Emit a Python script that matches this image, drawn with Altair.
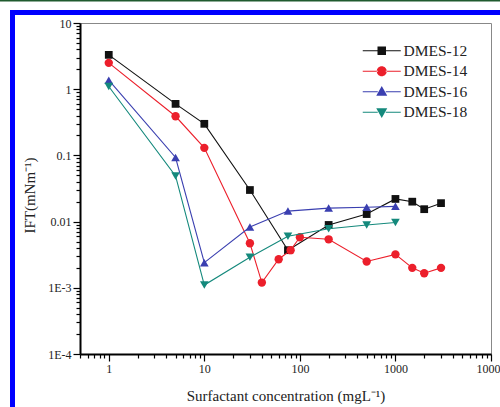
import altair as alt
import pandas as pd

series_names = ["DMES-12", "DMES-14", "DMES-16", "DMES-18"]
series_colors = ["#111111", "#ec1f2b", "#3a3fb0", "#14897c"]
series_shapes = ["square", "circle", "triangle-up", "triangle-down"]
series_sizes = [60, 70, 75, 75]

x12 = [1, 5, 10, 30, 75, 200, 500, 1000, 1500, 2000, 3000]
y12 = [3.3, 0.6, 0.3, 0.03, 0.0037, 0.0089, 0.013, 0.022, 0.020, 0.0154, 0.019]
x14 = [1, 5, 10, 30, 40, 60, 80, 100, 200, 500, 1000, 1500, 2000, 3000]
y14 = [2.5, 0.39, 0.13, 0.0047, 0.0012, 0.0027, 0.0037, 0.0058, 0.0054, 0.0025, 0.0032, 0.0020, 0.00166, 0.0020]
x16 = [1, 5, 10, 30, 75, 200, 500, 1000]
y16 = [1.37, 0.093, 0.0024, 0.0083, 0.0144, 0.016, 0.0165, 0.017]
x18 = [1, 5, 10, 30, 75, 200, 500, 1000]
y18 = [1.1, 0.049, 0.0011, 0.0029, 0.006, 0.0078, 0.0089, 0.0097]

x_major = [1, 10, 100, 1000, 10000]
x_major_labels = ["1", "10", "100", "1000", "10000"]
y_major = [0.0001, 0.001, 0.01, 0.1, 1, 10]
y_major_labels = ["1E-4", "1E-3", "0.01", "0.1", "1", "10"]

x_domain = [0.5, 10000]
y_domain = [0.0001, 10]

x_title = "Surfactant concentration (mgL\u207b\u00b9)"
y_title = "IFT(mNm\u207b\u00b9)"

FONT = "Liberation Serif"

# build the data table
xs_all = [x12, x14, x16, x18]
ys_all = [y12, y14, y16, y18]
rows = []
for name, xs, ys in zip(series_names, xs_all, ys_all):
    for xv, yv in zip(xs, ys):
        rows.append({"series": name, "conc": xv, "ift": yv})
df = pd.DataFrame(rows)


# minor tick value lists (2..9 per decade, plus 0.5..0.9)
def minor_ticks(lo, hi):
    vals = []
    d = 10.0 ** -5
    while d <= hi * 1.0001:
        for m in range(2, 10):
            v = round(m * d, 10)
            if lo * 0.9999 <= v <= hi * 1.0001:
                vals.append(v)
        d *= 10
    return vals


x_minor = minor_ticks(*x_domain)
y_minor = minor_ticks(*y_domain)


def label_expr(vals, labels):
    expr = "''"
    for v, l in reversed(list(zip(vals, labels))):
        expr = f"datum.value == {v} ? '{l}' : ({expr})"
    return expr


x_scale = alt.Scale(type="log", domain=x_domain)
y_scale = alt.Scale(type="log", domain=y_domain)

x_axis = alt.Axis(
    values=x_major,
    labelExpr=label_expr(x_major, x_major_labels),
    tickSize=7,
    title=x_title,
    labelOverlap=False,
    labelFlush=False,
    grid=False,
    labelPadding=2,
    titlePadding=14,
)
y_axis = alt.Axis(
    values=y_major,
    labelExpr=label_expr(y_major, y_major_labels),
    tickSize=7,
    title=y_title,
    labelOverlap=False,
    grid=False,
    labelPadding=2,
    titlePadding=10,
    titleY=172,
)

x_enc = alt.X("conc:Q", scale=x_scale, axis=x_axis)
y_enc = alt.Y("ift:Q", scale=y_scale, axis=y_axis)

base = alt.Chart(df)

series_layers = []
for name, col, shp, sz in zip(series_names, series_colors, series_shapes, series_sizes):
    series_layers.append(
        base.transform_filter(alt.datum.series == name)
        .mark_line(
            color=col,
            strokeWidth=1.1,
            point=alt.OverlayMarkDef(shape=shp, filled=True, size=sz, color=col, opacity=1),
        )
        .encode(x=x_enc, y=y_enc)
    )

# legend symbols: line + marker (custom paths, unit = 5px)
seg = "M-3.8,-0.12H-0.8V0.12H-3.8Z M0.8,-0.12H3.8V0.12H0.8Z "
legend_paths = [
    seg + "M-0.85,-0.85H0.85V0.85H-0.85Z",
    seg + "M-1,0A1,1 0 1,0 1,0A1,1 0 1,0 -1,0Z",
    seg + "M0,-1.15L1.1,0.8L-1.1,0.8Z",
    seg + "M0,1.15L1.1,-0.8L-1.1,-0.8Z",
]

legend_layer = base.mark_point(filled=True, opacity=0).encode(
    x=x_enc,
    y=y_enc,
    color=alt.Color(
        "series:N",
        scale=alt.Scale(domain=series_names, range=series_colors),
        legend=alt.Legend(title=None),
    ),
    shape=alt.Shape(
        "series:N",
        scale=alt.Scale(domain=series_names, range=legend_paths),
        legend=alt.Legend(title=None),
    ),
)

# minor ticks as a second, unlabeled pair of axes on the same sides
minor_layer = base.mark_point(opacity=0).encode(
    x=alt.X(
        "conc:Q",
        scale=x_scale,
        axis=alt.Axis(values=x_minor, tickSize=4, labels=False, domain=False,
                      title=None, grid=False, orient="bottom"),
    ),
    y=alt.Y(
        "ift:Q",
        scale=y_scale,
        axis=alt.Axis(values=y_minor, tickSize=4, labels=False, domain=False,
                      title=None, grid=False, orient="left"),
    ),
)

one = alt.Chart(pd.DataFrame({"a": [0]}))
frame_green = one.mark_rule(color="#1f5a2e", strokeWidth=2).encode(
    x=alt.value(-80), x2=alt.value(420), y=alt.value(-22.5)
)
frame_top = one.mark_rule(color="#0000ff", strokeWidth=5).encode(
    x=alt.value(-70), x2=alt.value(420), y=alt.value(-10.5)
)
frame_left = one.mark_rule(color="#0000ff", strokeWidth=5).encode(
    x=alt.value(-67.5), y=alt.value(-13), y2=alt.value(384)
)

main = alt.layer(*series_layers, legend_layer)

chart = (
    alt.layer(main, minor_layer, frame_green, frame_top, frame_left)
    .resolve_axis(x="independent", y="independent")
    .properties(
        width=411,
        height=331,
        autosize=alt.AutoSizeParams(type="none"),
        padding={"left": 80, "top": 23, "right": 9, "bottom": 53},
        background="white",
    )
    .configure_view(stroke="#888888", strokeWidth=1)
    .configure_axis(
        domainColor="#000000",
        domainWidth=2,
        tickColor="#000000",
        tickWidth=1.2,
        labelFont=FONT,
        labelFontSize=12,
        labelColor="#222222",
        titleFont=FONT,
        titleFontSize=15,
        titleFontWeight="normal",
        titleColor="#222222",
    )
    .configure_legend(
        orient="none",
        legendX=294,
        legendY=20,
        symbolSize=100,
        symbolStrokeWidth=0,
        symbolOpacity=1,
        labelFont=FONT,
        labelFontSize=15.5,
        labelColor="#222222",
        labelOffset=14,
        rowPadding=3.5,
        padding=0,
    )
)

chart.save("out.html", embed_options={"renderer": "svg", "actions": False})
